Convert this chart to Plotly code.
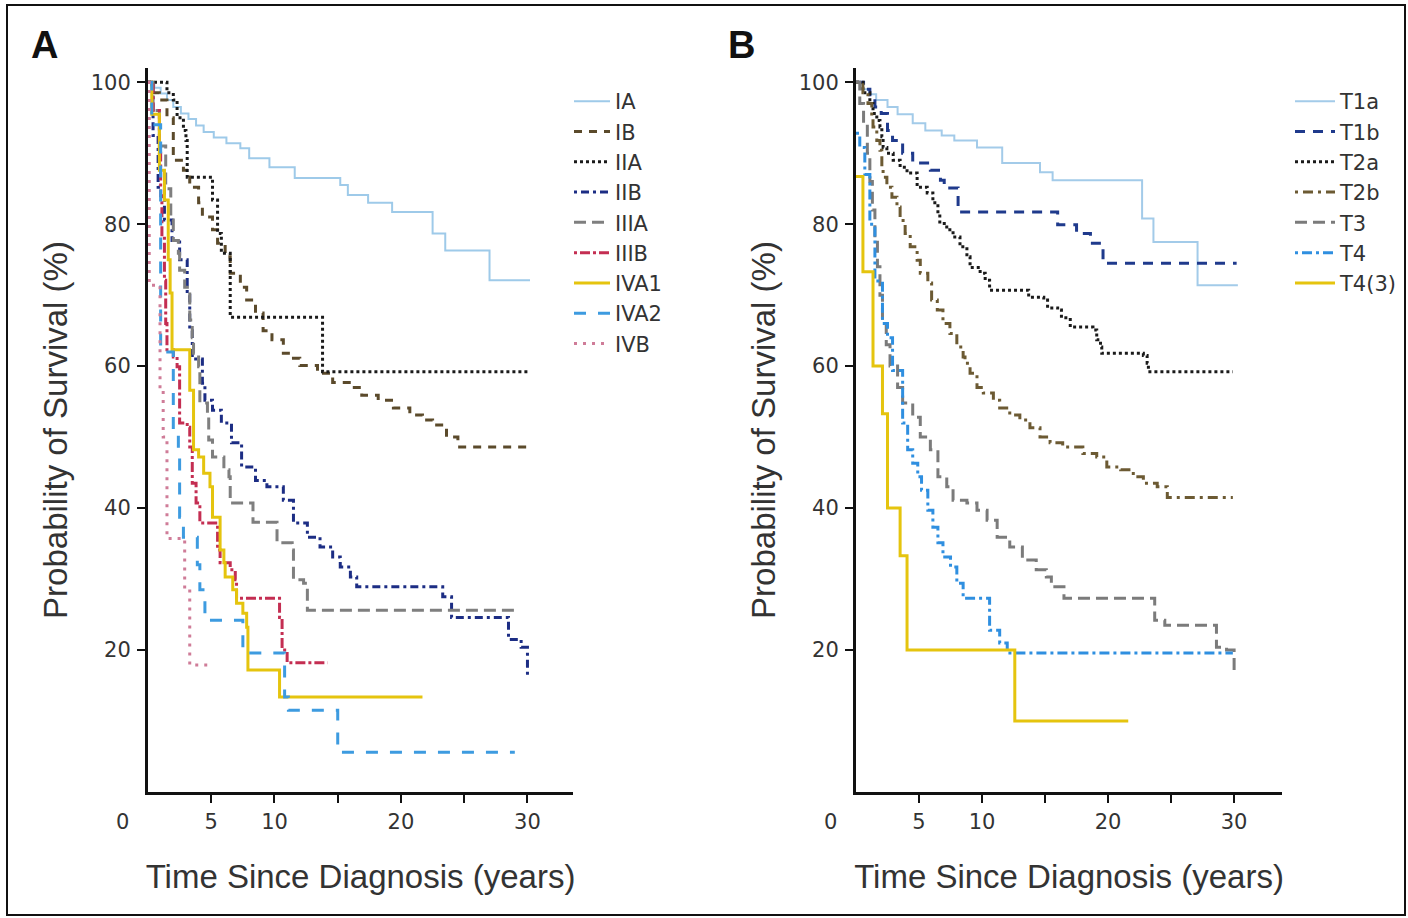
import plotly.graph_objects as go

# ---------------- Panel A: stage groups ----------------
IA_t = [0, 0.5, 1.0, 1.5, 2.0, 2.6, 3.2, 3.8, 4.4, 5.2, 6.2, 7.3, 8.0, 9.6, 11.6, 15.2, 15.8, 17.4, 19.3, 22.5, 23.5, 27.0, 30.2]
IA_s = [100, 99.2, 98.4, 97.5, 96.5, 95.6, 94.8, 93.9, 93.0, 92.2, 91.4, 90.7, 89.3, 88.0, 86.5, 85.5, 84.1, 83.0, 81.7, 78.7, 76.3, 72.1, 72.1]

IB_t = [0, 0.3, 0.9, 1.5, 2.0, 2.8, 3.3, 4.0, 4.3, 5.1, 5.5, 6.1, 6.5, 7.3, 7.8, 8.5, 9.1, 9.8, 10.7, 11.5, 12.0, 13.4, 14.6, 16.1, 16.9, 18.2, 19.4, 20.7, 21.7, 22.5, 23.6, 24.5, 30.0]
IB_s = [100, 98.5, 97.5, 95.0, 89.0, 87.6, 85.2, 83.0, 81.0, 79.2, 77.3, 75.4, 73.1, 71.1, 69.3, 67.5, 65.0, 63.7, 61.8, 61.1, 60.1, 59.0, 57.7, 57.0, 55.9, 55.2, 54.1, 53.1, 52.4, 51.7, 50.0, 48.6, 48.6]

IIA_t = [0, 1.5, 2.0, 2.3, 2.8, 3.0, 3.1, 5.1, 5.5, 5.8, 6.5, 13.8, 30.0]
IIA_s = [100, 98.5, 97.5, 95.0, 93.2, 91.8, 86.6, 83.4, 78.7, 75.9, 66.9, 59.2, 59.2]

IIB_t = [0, 0.4, 0.8, 1.3, 1.9, 2.5, 3.1, 3.3, 3.5, 4.3, 4.5, 5.1, 5.8, 6.6, 7.4, 8.5, 9.4, 10.7, 11.5, 12.6, 13.6, 14.6, 15.2, 16.0, 16.5, 23.3, 24.0, 28.5, 29.5, 30.0]
IIB_s = [100, 92.5, 85.2, 80.6, 77.7, 75.0, 70.0, 65.0, 61.0, 57.6, 55.2, 53.8, 52.0, 49.2, 45.8, 43.9, 43.0, 41.1, 37.9, 35.9, 34.5, 33.1, 31.7, 30.3, 28.9, 27.5, 24.6, 21.5, 20.4, 16.2]

IIIA_t = [0, 0.4, 0.9, 1.4, 1.8, 2.0, 2.4, 2.5, 2.9, 3.3, 3.5, 3.6, 4.0, 4.1, 4.7, 4.8, 5.1, 6.0, 6.4, 6.5, 8.3, 10.2, 11.4, 11.5, 12.3, 12.6, 29.4]
IIIA_s = [100, 96, 91, 85, 80.6, 77.7, 75.9, 73.5, 71.1, 66.5, 64.0, 61.8, 59.9, 54.8, 52.8, 49.6, 47.2, 45.4, 44.4, 40.7, 38.0, 35.1, 34.1, 29.9, 29.4, 25.6, 25.6]

IIIB_t = [0, 0.4, 0.9, 1.0, 1.1, 1.3, 1.4, 1.5, 2.0, 2.3, 2.5, 3.1, 3.3, 3.5, 3.8, 4.1, 5.5, 5.7, 6.5, 6.9, 7.0, 10.4, 10.6, 11.0, 14.2]
IIIB_s = [100, 96, 90, 84, 78, 72.1, 66, 62.3, 61.3, 59.9, 52.0, 51.4, 48.6, 43.5, 40.7, 37.9, 34.1, 32.3, 31.3, 29.9, 27.3, 24.6, 20.0, 18.2, 18.2]

IVA1_t = [0, 0.3, 0.9, 1.3, 1.6, 1.75, 1.9, 3.3, 3.6, 4.0, 4.4, 4.9, 5.1, 5.7, 6.0, 6.1, 6.7, 7.0, 7.5, 7.8, 7.9, 10.4, 21.7]
IVA1_s = [100, 95.5, 87.6, 83.4, 75, 70.3, 62.3, 56.6, 48.2, 47.2, 44.9, 43.0, 38.7, 34.1, 32.3, 30.3, 28.5, 26.6, 25.2, 23.2, 17.2, 13.4, 13.4]

IVA2_t = [0, 0.3, 1.0, 2.0, 2.4, 2.5, 2.8, 3.9, 4.1, 4.5, 7.5, 10.8, 11.1, 15.0, 29.0]
IVA2_s = [100, 94, 62, 51, 47.2, 38.7, 35.9, 32.0, 28.5, 24.2, 19.6, 13.4, 11.5, 5.6, 5.6]

IVB_t = [0, 0.1, 0.95, 1.2, 1.5, 2.9, 3.3, 4.7]
IVB_s = [100, 71.4, 57.1, 50.0, 35.7, 28.6, 17.9, 17.9]

# ---------------- Panel B: T categories ----------------
T1a_t = [0, 0.5, 1.1, 1.6, 2.5, 3.3, 4.5, 5.5, 6.8, 7.8, 9.6, 11.6, 14.6, 15.6, 22.7, 23.6, 27.1, 30.3]
T1a_s = [100, 99.0, 98.3, 97.5, 96.5, 95.5, 94.2, 93.2, 92.5, 91.8, 90.8, 88.6, 87.3, 86.2, 80.8, 77.5, 71.4, 71.4]

T1b_t = [0, 0.6, 1.1, 1.5, 2.0, 2.5, 2.9, 3.7, 4.5, 5.9, 6.7, 7.0, 8.1, 16.0, 17.5, 18.6, 19.6, 30.2]
T1b_s = [100, 99.0, 98.0, 96.5, 95.6, 93.2, 91.8, 90.0, 88.6, 87.6, 86.2, 85.1, 81.7, 79.9, 78.7, 77.3, 74.5, 74.5]

T2a_t = [0, 0.55, 1.1, 1.35, 1.65, 1.9, 2.05, 2.15, 2.45, 2.95, 3.5, 4.05, 4.85, 5.65, 6.1, 6.5, 6.65, 7.2, 7.7, 8.25, 8.8, 9.05, 9.85, 10.25, 10.6, 13.7, 14.9, 15.2, 16.0, 16.3, 17.0, 18.8, 19.1, 19.4, 19.5, 22.8, 23.1, 23.2, 29.9]
T2a_s = [100, 98.5, 97.0, 95.6, 94.6, 93.7, 92.3, 90.8, 90.0, 89.0, 88.0, 87.2, 85.2, 84.4, 83.0, 81.5, 80.1, 79.2, 78.2, 76.8, 75.4, 73.9, 73.1, 72.1, 70.7, 69.7, 69.3, 68.2, 67.9, 66.8, 65.5, 65.1, 63.7, 62.7, 61.8, 61.5, 60.4, 59.2, 59.2]

T2b_t = [0, 0.55, 0.95, 1.25, 1.35, 1.65, 1.9, 2.05, 2.15, 2.45, 2.85, 3.25, 3.5, 3.9, 4.3, 4.85, 5.1, 5.7, 6.0, 6.45, 6.9, 7.45, 8.0, 8.5, 8.65, 9.05, 9.6, 10.1, 10.9, 11.4, 12.2, 13.0, 13.8, 14.6, 15.4, 16.4, 18.0, 19.1, 19.9, 21.0, 22.0, 22.8, 23.9, 24.7, 29.9]
T2b_s = [100, 98.5, 97.0, 95.0, 93.7, 91.8, 90.4, 88.0, 86.6, 85.2, 83.8, 82.4, 80.5, 78.7, 76.8, 74.9, 73.1, 71.7, 69.3, 67.9, 66.0, 64.6, 62.7, 61.3, 60.4, 59.0, 57.0, 56.2, 55.2, 54.1, 53.1, 52.4, 51.3, 50.0, 49.2, 48.6, 47.7, 47.2, 45.8, 45.4, 44.4, 43.5, 43.0, 41.5, 41.5]

T3_t = [0, 0.3, 0.6, 0.9, 1.1, 1.3, 1.5, 1.7, 1.9, 2.1, 2.4, 2.7, 3.3, 3.7, 4.5, 5.1, 5.9, 6.5, 7.2, 7.7, 8.8, 9.6, 10.4, 11.2, 12.2, 13.2, 14.3, 15.1, 15.5, 16.5, 23.7, 24.5, 28.6, 29.4, 30.0]
T3_s = [100, 97, 94, 90, 86, 82, 78, 74, 70, 66, 63, 60, 57, 54.8, 52.8, 50, 48.2, 44.4, 43, 41.1, 40.7, 39.7, 38.3, 35.9, 34.5, 32.7, 31.3, 30.3, 28.9, 27.3, 24.2, 23.5, 20.4, 20.0, 16.8]

T4_t = [0, 0.3, 0.7, 1.1, 1.5, 2.1, 2.5, 2.9, 3.7, 4.1, 4.5, 4.9, 5.2, 5.7, 6.1, 6.5, 6.9, 7.5, 8.0, 8.5, 10.6, 11.4, 12.0, 29.9]
T4_s = [92.8, 90.8, 87.0, 80.0, 72.0, 66.0, 64.0, 59.4, 52.0, 48.2, 46.3, 44.4, 42.5, 39.7, 37.3, 35.1, 33.1, 31.7, 29.4, 27.3, 22.8, 21.0, 19.6, 19.6]

T43_t = [0, 0.55, 1.35, 2.1, 2.5, 3.5, 4.05, 12.6, 21.6]
T43_s = [86.7, 73.3, 60.0, 53.3, 40.0, 33.3, 20.0, 10.0, 10.0]

# axis ticks
x_tickvals = [5, 10, 15, 20, 25, 30]
x_ticktext = ["5", "10", "", "20", "", "30"]
y_tickvals = [20, 40, 60, 80, 100]

TITLE_FONT = "Liberation Sans, Arial, sans-serif"
TICK_FONT = "DejaVu Sans, sans-serif"
TXT = "#333333"

series_A = [
    ("IA", IA_t, IA_s, "#9ecae9", "solid", 2),
    ("IB", IB_t, IB_s, "#5b4a2b", "8px,7px", 3),
    ("IIA", IIA_t, IIA_s, "#1a1a1a", "3px,3px", 3),
    ("IIB", IIB_t, IIB_s, "#1c2d84", "3px,4px,8px,4px", 3),
    ("IIIA", IIIA_t, IIIA_s, "#7f7f7f", "12px,6px", 3),
    ("IIIB", IIIB_t, IIIB_s, "#c42e52", "3px,3px,10px,3px", 3),
    ("IVA1", IVA1_t, IVA1_s, "#e5c40e", "solid", 3),
    ("IVA2", IVA2_t, IVA2_s, "#3d9be0", "12px,12px", 3),
    ("IVB", IVB_t, IVB_s, "#cf7c98", "3px,6px", 3),
]
series_B = [
    ("T1a", T1a_t, T1a_s, "#a3cbe9", "solid", 2),
    ("T1b", T1b_t, T1b_s, "#1f3a8c", "10px,8px", 3),
    ("T2a", T2a_t, T2a_s, "#1a1a1a", "3px,3px", 3),
    ("T2b", T2b_t, T2b_s, "#6c5a33", "3px,5px,10px,5px", 3),
    ("T3", T3_t, T3_s, "#7b7b7b", "12px,6px", 3),
    ("T4", T4_t, T4_s, "#2f8fe0", "3px,4px,10px,4px", 3),
    ("T4(3)", T43_t, T43_s, "#e5c40e", "solid", 3),
]

fig = go.Figure()
for name, t, s, col, dash, w in series_A:
    fig.add_trace(go.Scatter(x=t, y=s, mode="lines", name=name, line=dict(color=col, dash=dash, width=w, shape="hv"),
                             xaxis="x", yaxis="y", legend="legend"))
for name, t, s, col, dash, w in series_B:
    fig.add_trace(go.Scatter(x=t, y=s, mode="lines", name=name, line=dict(color=col, dash=dash, width=w, shape="hv"),
                             xaxis="x2", yaxis="y2", legend="legend2"))

W, H = 1408, 918
def px_x(p):
    return p / W
def px_y(p):
    return 1 - p / H

yd = [px_y(792), px_y(68)]
xa = dict(range=[0, 33.6], tickvals=x_tickvals, ticktext=x_ticktext, ticks="outside", ticklen=8, tickwidth=2,
          tickcolor="#111", showline=True, linecolor="#111", linewidth=3, showgrid=False, zeroline=False,
          tickfont=dict(family=TICK_FONT, size=21, color=TXT), ticklabelstandoff=1,
          title=dict(text="Time Since Diagnosis (years)", font=dict(family=TITLE_FONT, size=33, color=TXT), standoff=32))
ya = dict(range=[0, 102], tickvals=y_tickvals, ticks="outside", ticklen=8, tickwidth=2,
          tickcolor="#111", showline=True, linecolor="#111", linewidth=3, showgrid=False, zeroline=False,
          tickfont=dict(family=TICK_FONT, size=21, color=TXT), ticklabelstandoff=2,
          title=dict(text="Probability of Survival (%)", font=dict(family=TITLE_FONT, size=33, color=TXT), standoff=14))

leg_common = dict(xanchor="left", yanchor="top", bgcolor="rgba(0,0,0,0)",
                  font=dict(family=TICK_FONT, size=21, color=TXT), tracegroupgap=0)

fig.update_layout(
    width=W, height=H, margin=dict(l=0, r=0, t=0, b=0),
    paper_bgcolor="white", plot_bgcolor="white",
    xaxis=dict(domain=[px_x(148), px_x(573)], anchor="y", **xa),
    yaxis=dict(domain=yd, anchor="x", **ya),
    xaxis2=dict(domain=[px_x(856), px_x(1282)], anchor="y2", **{**xa, "range": [0, 33.8]}),
    yaxis2=dict(domain=yd, anchor="x2", **ya),
    legend=dict(x=px_x(569), y=px_y(81), itemwidth=36, **leg_common),
    legend2=dict(x=px_x(1290), y=px_y(81), itemwidth=40, **leg_common),
    showlegend=True,
    annotations=[
        dict(text="<b>A</b>", x=px_x(44), y=px_y(45), xref="paper", yref="paper", showarrow=False,
             xanchor="center", yanchor="middle", font=dict(family=TITLE_FONT, size=38, color="#111")),
        dict(text="<b>B</b>", x=px_x(741), y=px_y(45), xref="paper", yref="paper", showarrow=False,
             xanchor="center", yanchor="middle", font=dict(family=TITLE_FONT, size=38, color="#111")),
        dict(text="0", x=px_x(122), y=px_y(822), xref="paper", yref="paper", showarrow=False,
             xanchor="center", yanchor="middle", font=dict(family=TICK_FONT, size=21, color=TXT)),
        dict(text="0", x=px_x(830), y=px_y(822), xref="paper", yref="paper", showarrow=False,
             xanchor="center", yanchor="middle", font=dict(family=TICK_FONT, size=21, color=TXT)),
    ],
    shapes=[dict(type="rect", xref="paper", yref="paper", x0=px_x(7), x1=px_x(1405), y0=px_y(915), y1=px_y(5),
                 line=dict(color="#111", width=2))],
)

fig.write_html("out.html", config={"displayModeBar": False},
               post_script="document.body.style.margin='0';document.body.style.overflow='hidden';")
